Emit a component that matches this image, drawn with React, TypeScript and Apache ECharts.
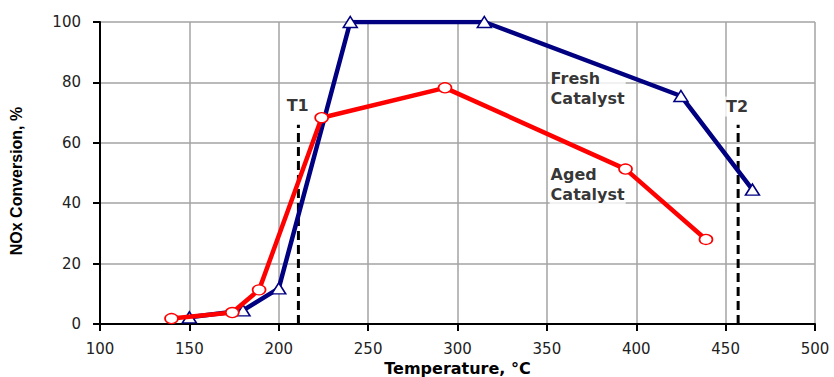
import React, { useEffect, useRef } from "react";
import * as echarts from "echarts";

// Temperature (°C) and NOx conversion (%)
const freshTemps = [150, 180, 200, 240, 315, 425, 465];
const freshConv = [2.2, 4.5, 11.8, 100, 100, 75.5, 44.5];
const agedTemps = [140, 174, 189, 224, 293, 394, 439];
const agedConv = [1.8, 3.8, 11.3, 68.3, 78.2, 51.3, 28];

// Dashed T1 / T2 marker lines
const t1Temp = 211;
const t2Temp = 457;
const markerBottom = 0;
const markerTop = 66;

// Annotation texts anchored in data coordinates
const annotationTexts = ["T1", "T2", "Fresh\nCatalyst", "Aged\nCatalyst"];
const annotationTemps = [210.6, 456.4, 351.5, 351.5];
const annotationConv = [72.3, 72, 77.9, 46.1];
const annotationAlign = ["center", "center", "left", "left"];

// Axis ticks
const xTickValues = [100, 150, 200, 250, 300, 350, 400, 450, 500];
const yTickValues = [0, 20, 40, 60, 80, 100];

const xAxisTitle = "Temperature, °C";
const yAxisTitle = "NOx Conversion, %";

export default function App() {
  const ref = useRef<HTMLDivElement>(null);

  useEffect(() => {
    if (!ref.current) return;
    const chart = echarts.init(ref.current, null, { renderer: "svg" });

    const tickLabelStyle = {
      fontFamily: "DejaVu Sans",
      fontSize: 15,
      color: "#222",
    };
    const boldText = {
      fontFamily: "DejaVu Sans",
      fontWeight: "bold" as const,
      fontSize: 16,
      color: "#000",
    };

    const annotationData = annotationTexts.map((t, i) => ({
      value: [annotationTemps[i], annotationConv[i]],
      label: {
        show: true,
        formatter: t,
        position: annotationAlign[i] === "left" ? "right" : "inside",
        distance: 0,
        align: annotationAlign[i],
        verticalAlign: "middle",
        lineHeight: 20,
        backgroundColor: "#fff",
        padding: [0, 1, 0, 1],
        ...boldText,
      },
    }));

    chart.setOption({
      animation: false,
      backgroundColor: "#fff",
      grid: {
        left: 100,
        right: 19,
        top: 22,
        bottom: 53,
        containLabel: false,
        outerBoundsMode: "none",
      },
      xAxis: {
        type: "value",
        min: xTickValues[0],
        max: xTickValues[xTickValues.length - 1],
        interval: xTickValues[1] - xTickValues[0],
        name: xAxisTitle,
        nameLocation: "middle",
        nameGap: 32,
        nameTextStyle: { ...boldText, fontSize: 16, lineHeight: 16 },
        axisLine: { show: true, onZero: false, lineStyle: { color: "#000", width: 2 } },
        axisTick: { show: true, length: 7, lineStyle: { color: "#000", width: 2 } },
        axisLabel: { ...tickLabelStyle, margin: 17 },
        splitLine: { show: true, lineStyle: { color: "#a3a3a3", width: 1.5 } },
      },
      yAxis: {
        type: "value",
        min: yTickValues[0],
        max: yTickValues[yTickValues.length - 1],
        interval: yTickValues[1] - yTickValues[0],
        name: yAxisTitle,
        nameLocation: "middle",
        nameGap: 76,
        nameTextStyle: {
          fontFamily: "Liberation Sans",
          fontWeight: "bold",
          fontSize: 16,
          color: "#000",
          padding: [0, 16, 0, 0],
        },
        axisLine: { show: true, onZero: false, lineStyle: { color: "#000", width: 2 } },
        axisTick: { show: true, length: 7, lineStyle: { color: "#000", width: 2 } },
        axisLabel: { ...tickLabelStyle, margin: 19 },
        splitLine: { show: true, lineStyle: { color: "#a3a3a3", width: 1.5 } },
      },
      series: [
        {
          name: "T1",
          type: "line",
          data: [
            [t1Temp, markerBottom],
            [t1Temp, markerTop],
          ],
          symbol: "none",
          lineStyle: { color: "#000", width: 3, type: [9, 5] },
          silent: true,
          z: 3,
        },
        {
          name: "T2",
          type: "line",
          data: [
            [t2Temp, markerBottom],
            [t2Temp, markerTop],
          ],
          symbol: "none",
          lineStyle: { color: "#000", width: 3, type: [9, 5] },
          silent: true,
          z: 3,
        },
        {
          name: "Fresh Catalyst",
          type: "line",
          data: freshTemps.map((t, i) => [t, freshConv[i]]),
          symbol: "triangle",
          symbolSize: [14, 11],
          lineStyle: { color: "#000080", width: 4.5 },
          itemStyle: { color: "#fff", borderColor: "#000080", borderWidth: 1.5 },
          z: 4,
        },
        {
          name: "Aged Catalyst",
          type: "line",
          data: agedTemps.map((t, i) => [t, agedConv[i]]),
          symbol: "circle",
          symbolSize: [13, 10],
          lineStyle: { color: "#ff0000", width: 4.5 },
          itemStyle: { color: "#fff", borderColor: "#ff0000", borderWidth: 1.5 },
          z: 5,
        },
        {
          name: "annotations",
          type: "scatter",
          data: annotationData,
          symbol: "circle",
          symbolSize: 0.1,
          itemStyle: { color: "rgba(0,0,0,0)" },
          silent: true,
          z: 2,
        },
      ],
    });

    return () => chart.dispose();
  }, []);

  return (
    <div
      ref={ref}
      style={{ position: "fixed", left: 0, top: 0, width: 834, height: 377, background: "#fff" }}
    />
  );
}
